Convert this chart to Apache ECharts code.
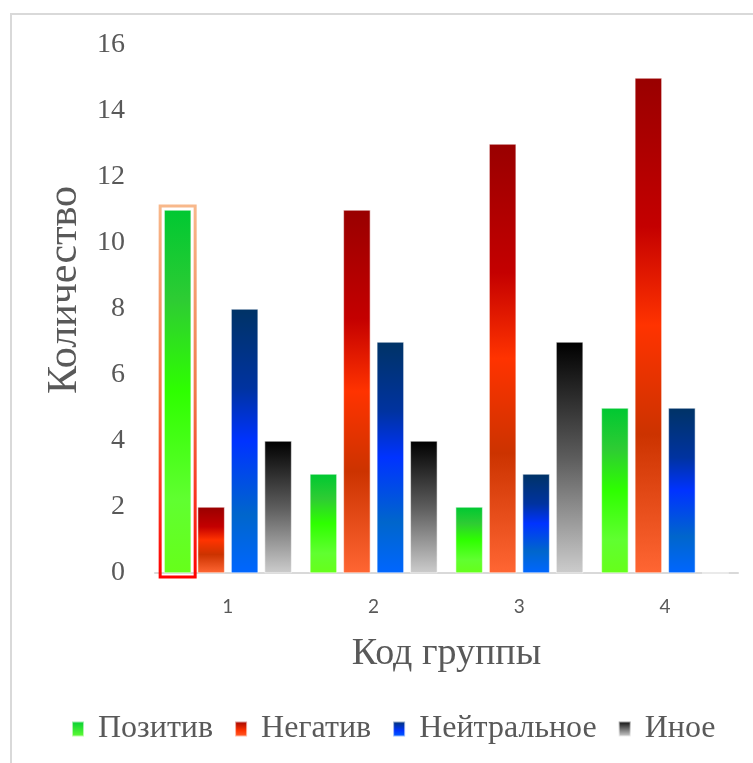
<!DOCTYPE html>
<html>
<head>
<meta charset="utf-8">
<script src="https://cdn.jsdelivr.net/npm/echarts@6/dist/echarts.min.js"></script>
<style>
  html, body { margin: 0; padding: 0; background: #ffffff; }
  #chart { width: 753px; height: 763px; }
</style>
</head>
<body>
<div id="chart"></div>
<script>
// Group codes and counts per response type
const categories = ['1', '2', '3', '4'];
const positive = [11, 3, 2, 5];
const negative = [2, 11, 13, 15];
const neutral = [8, 7, 3, 5];
const other = [4, 4, 7, 0];
const seriesNames = ['Позитив', 'Негатив', 'Нейтральное', 'Иное'];

const serif = '"Liberation Serif", "Times New Roman", serif';
const textGray = '#595959';

function vGrad(stops) {
  return new echarts.graphic.LinearGradient(0, 0, 0, 1,
    stops.map(s => ({ offset: s[0], color: s[1] })));
}

// Excel-style gradient fills, one per series
const fills = [
  vGrad([[0, '#00c832'], [0.25, '#2ecc33'], [0.5, '#2eff00'], [0.8, '#60ff30'], [1, '#66ff1a']]),
  vGrad([[0, '#990000'], [0.3, '#c40000'], [0.5, '#ff3300'], [0.72, '#cc3300'], [1, '#ff6633']]),
  vGrad([[0, '#003366'], [0.3, '#0033a0'], [0.5, '#0033ff'], [0.78, '#0066cc'], [1, '#0066ff']]),
  vGrad([[0, '#000000'], [0.5, '#5c5c5c'], [1, '#cccccc']])
];
const legendFills = [
  vGrad([[0, '#00cc33'], [1, '#66ff33']]),
  vGrad([[0, '#990000'], [0.6, '#ff3300'], [1, '#ff6633']]),
  vGrad([[0, '#003366'], [0.6, '#0033ff'], [1, '#0066ff']]),
  vGrad([[0, '#000000'], [1, '#dddddd']])
];

const values = [positive, negative, neutral, other];

const chart = echarts.init(document.getElementById('chart'), null, { renderer: 'canvas' });

chart.setOption({
  animation: false,
  backgroundColor: '#ffffff',
  grid: { left: 155, right: 15, top: 45, bottom: 190, containLabel: false },
  legend: {
    bottom: 13,
    left: 66,
    itemWidth: 12,
    itemHeight: 15,
    itemGap: 21,
    icon: 'rect',
    textStyle: { fontFamily: serif, fontSize: 32, color: textGray, padding: [0, 0, 0, 9] },
    data: seriesNames.map((n, i) => ({ name: n, itemStyle: { color: legendFills[i] } }))
  },
  xAxis: {
    type: 'category',
    data: categories,
    name: 'Код группы',
    nameLocation: 'middle',
    nameGap: 62,
    nameTextStyle: { fontFamily: serif, fontSize: 38, color: textGray },
    axisLine: { lineStyle: { color: '#d9d9d9', width: 2 } },
    axisTick: { show: false },
    axisLabel: { fontFamily: 'Lato, "Open Sans", sans-serif', fontSize: 19, color: textGray, margin: 24 }
  },
  yAxis: {
    type: 'value',
    min: 0,
    max: 16,
    interval: 2,
    name: 'Количество',
    nameLocation: 'middle',
    nameGap: 66,
    nameTextStyle: { fontFamily: serif, fontSize: 42, color: textGray, padding: [0, 0, 0, 38] },
    axisLine: { show: false },
    axisTick: { show: false },
    splitLine: { show: false },
    axisLabel: { fontFamily: serif, fontSize: 28, color: textGray, margin: 30 }
  },
  series: seriesNames.map((n, i) => ({
    name: n,
    type: 'bar',
    data: values[i],
    barWidth: 27,
    barGap: '24%',
    itemStyle: { color: fills[i], borderColor: 'rgba(255,255,255,0.6)', borderWidth: 0.5 }
  }))
});

// Selection outline around the first bar, plus the partial frame of the chart area
const layout = chart.getModel().getSeriesByIndex(0).getData().getItemLayout(0);
const pad = 4;
const bx = layout.x, bw = layout.width;
const by = Math.min(layout.y, layout.y + layout.height);
const bh = Math.abs(layout.height);

chart.setOption({
  graphic: [
    {
      type: 'polyline',
      shape: { points: [[11, 763], [11, 14], [753, 14]] },
      style: { stroke: '#d9d9d9', lineWidth: 2, fill: null },
      silent: true
    },
    {
      type: 'rect',
      shape: { x: bx - pad, y: by - pad, width: bw + pad * 2, height: bh + pad * 2 },
      style: {
        fill: null,
        lineWidth: 3,
        stroke: new echarts.graphic.LinearGradient(0, 0, 0, 1, [
          { offset: 0, color: '#f8b98c' },
          { offset: 0.5, color: '#f07a4a' },
          { offset: 1, color: '#ff0000' }
        ])
      },
      z: 10,
      silent: true
    }
  ]
});
</script>
</body>
</html>
